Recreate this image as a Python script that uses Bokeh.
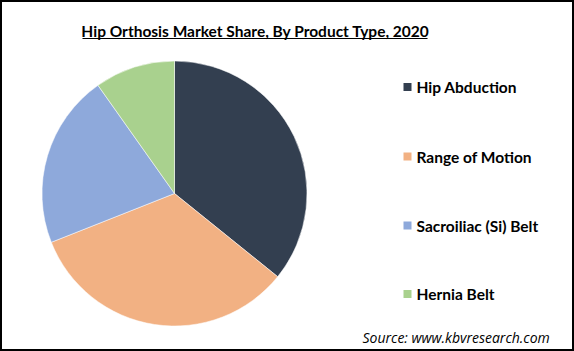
import numpy as np
from bokeh.plotting import figure
from bokeh.models import Range1d
from bokeh.core.properties import value
from bokeh.embed import file_html
from bokeh.resources import INLINE

title = "Hip Orthosis Market Share, By Product Type, 2020"
categories = ["Hip Abduction", "Range of Motion", "Sacroiliac (Si) Belt", "Hernia Belt"]
shares = [35.8, 33.2, 21.2, 9.8]
colors = ["#333F50", "#F2B183", "#8EA9DB", "#A9D18E"]
source_text = "Source: www.kbvresearch.com"

W, H = 574, 351
p = figure(width=W, height=H, output_backend="svg", toolbar_location=None,
           x_range=Range1d(0, W), y_range=Range1d(0, H), min_border=0)
p.axis.visible = False
p.grid.visible = False
p.outline_line_color = "black"
p.outline_line_width = 3
p.background_fill_color = "white"

# pie
vals = np.array(shares, dtype=float)
frac = vals / vals.sum() * 2 * np.pi
cum = np.concatenate([[0], np.cumsum(frac)])
start = np.pi / 2 - cum[:-1]
end = np.pi / 2 - cum[1:]
cx, cy, r = 174, H - 193, 132.5
p.wedge(x=cx, y=cy, radius=r, start_angle=start, end_angle=end, direction="clock",
        fill_color=colors, line_color="white", line_width=0.5)

# title
p.text(x=[255], y=[H - 30], text=[title], text_font=value("Lato"), text_font_style="bold",
       text_font_size="15.5px", text_align="center", text_baseline="middle", text_color="black")
p.segment(x0=[82], y0=[H - 38], x1=[427], y1=[H - 38], line_color="black", line_width=1.2)

# legend
ly = H - np.array([86.5, 156, 225, 293.5])
p.scatter(x=[407] * 4, y=ly, marker="square", size=8, fill_color=colors, line_color=None)
p.text(x=[416] * 4, y=ly, text=categories, text_font=value("Lato"), text_font_style="bold",
       text_font_size="15.5px", text_align="left", text_baseline="middle", text_color="black")

# source
p.text(x=[362], y=[H - 336.5], text=[source_text], text_font=value("Open Sans"),
       text_font_style="italic", text_font_size="14px", text_align="left",
       text_baseline="middle", text_color="black")

open("out.html", "w").write(file_html(p, INLINE))
